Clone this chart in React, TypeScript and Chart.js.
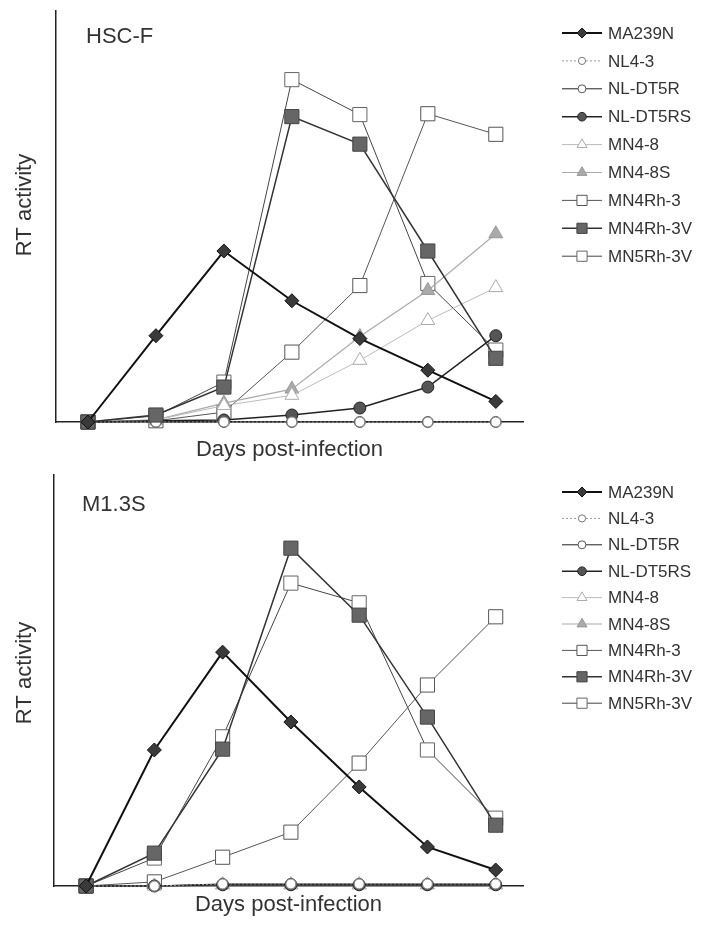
import React, { useEffect, useRef } from 'react';
import { Chart, registerables } from 'chart.js';
Chart.register(...registerables);

// ---------- data ----------
const days = [1, 2, 3, 4, 5, 6, 7];
const seriesNames = ['MA239N', 'NL4-3', 'NL-DT5R', 'NL-DT5RS', 'MN4-8', 'MN4-8S', 'MN4Rh-3', 'MN4Rh-3V', 'MN5Rh-3V'];

// Panel 1: HSC-F
const hscMA239N = [0, 21, 41.6, 29.5, 20.3, 12.6, 5];
const hscNL43 = [0, 0, 0, 0, 0, 0, 0];
const hscNLDT5R = [0, 0, 0, 0, 0, 0, 0];
const hscNLDT5RS = [0, 0.3, 0.5, 1.7, 3.4, 8.5, 21];
const hscMN48 = [0, 0.5, 4, 6.5, 15, 24.7, 32.7];
const hscMN48S = [0, 0.5, 4.6, 8, 20.8, 32, 45.8];
const hscMN4Rh3 = [0, 0.3, 2.4, 17, 33.2, 75, 70];
const hscMN4Rh3V = [0, 1.7, 8.5, 74.3, 67.6, 41.6, 15.5];
const hscMN5Rh3V = [0, 1.5, 9.7, 83.3, 74.8, 33.7, 17.5];

// Panel 2: M1.3S
const m13MA239N = [0, 33.1, 56.9, 39.9, 24.1, 9.5, 3.9];
const m13NL43 = [0, 0, 0.5, 0.5, 0.5, 0.5, 0.5];
const m13NLDT5R = [0, 0, 0.5, 0.5, 0.5, 0.5, 0.5];
const m13NLDT5RS = [0, 0, 0.3, 0.3, 0.3, 0.3, 0.3];
const m13MN48 = [0, 0, 0.3, 0.3, 0.3, 0.3, 0.3];
const m13MN48S = [0, 0, 0.3, 0.3, 0.3, 0.3, 0.3];
const m13MN4Rh3 = [0, 1, 7, 13.1, 29.9, 48.9, 65.5];
const m13MN4Rh3V = [0, 8, 33.3, 82.2, 65.9, 41.1, 14.8];
const m13MN5Rh3V = [0, 6.8, 36.3, 73.7, 68.9, 33.1, 16.5];

const hscValues = [hscMA239N, hscNL43, hscNLDT5R, hscNLDT5RS, hscMN48, hscMN48S, hscMN4Rh3, hscMN4Rh3V, hscMN5Rh3V];
const m13Values = [m13MA239N, m13NL43, m13NLDT5R, m13NLDT5RS, m13MN48, m13MN48S, m13MN4Rh3, m13MN4Rh3V, m13MN5Rh3V];

const xTitle = 'Days post-infection';
const yTitle = 'RT activity';

// ---------- styles ----------
type Sty = { line: string; lw: number; dash?: number[]; shape: string; r: number; fill: string; stroke: string; order: number };
const STYLES: Record<string, Sty> = {
  'MA239N': { line: '#111', lw: 2, shape: 'rectRot', r: 7, fill: '#3a3a3a', stroke: '#111', order: 0 },
  'NL4-3': { line: '#999', lw: 1, dash: [2, 2], shape: 'circle', r: 5, fill: '#fff', stroke: '#777', order: 1.5 },
  'NL-DT5R': { line: '#222', lw: 1, shape: 'circle', r: 5.5, fill: '#fff', stroke: '#555', order: 1.6 },
  'NL-DT5RS': { line: '#222', lw: 1.5, shape: 'circle', r: 6, fill: '#555', stroke: '#222', order: 2 },
  'MN4-8': { line: '#bbb', lw: 1, shape: 'triangle', r: 8, fill: '#fff', stroke: '#aaa', order: 2 },
  'MN4-8S': { line: '#aaa', lw: 1.2, shape: 'triangle', r: 8, fill: '#aaa', stroke: '#999', order: 2 },
  'MN4Rh-3': { line: '#555', lw: 1, shape: 'rect', r: 10, fill: '#fff', stroke: '#555', order: 2 },
  'MN4Rh-3V': { line: '#333', lw: 1.5, shape: 'rect', r: 10, fill: '#666', stroke: '#444', order: 1 },
  'MN5Rh-3V': { line: '#444', lw: 1, shape: 'rect', r: 10, fill: '#fff', stroke: '#666', order: 2 },
};

const FONT = "'Liberation Sans', Arial, Helvetica, sans-serif";

function drawMarker(ctx: CanvasRenderingContext2D, shape: string, x: number, y: number, r: number, fill: string, stroke: string) {
  ctx.beginPath();
  if (shape === 'circle') {
    ctx.arc(x, y, r, 0, Math.PI * 2);
  } else if (shape === 'rect') {
    const s = r * Math.SQRT1_2;
    ctx.rect(x - s, y - s, 2 * s, 2 * s);
  } else if (shape === 'rectRot') {
    ctx.moveTo(x - r, y); ctx.lineTo(x, y - r); ctx.lineTo(x + r, y); ctx.lineTo(x, y + r); ctx.closePath();
  } else if (shape === 'triangle') {
    ctx.moveTo(x, y - r);
    ctx.lineTo(x + r * 0.866, y + r * 0.5);
    ctx.lineTo(x - r * 0.866, y + r * 0.5);
    ctx.closePath();
  }
  ctx.fillStyle = fill; ctx.fill();
  ctx.lineWidth = 1; ctx.strokeStyle = stroke; ctx.stroke();
}

const decorPlugin = {
  id: 'decor',
  afterDraw(chart: any, _args: any, opts: any) {
    const ctx: CanvasRenderingContext2D = chart.ctx;
    ctx.save();
    // panel label
    ctx.font = `22px ${FONT}`;
    ctx.fillStyle = '#333';
    ctx.textBaseline = 'middle';
    ctx.textAlign = 'left';
    ctx.fillText(opts.label, opts.labelX, opts.labelY);
    // y-axis title
    ctx.save();
    ctx.translate(opts.yTitleX, opts.yTitleY);
    ctx.rotate(-Math.PI / 2);
    ctx.textAlign = 'center';
    ctx.fillText(yTitle, 0, 0);
    ctx.restore();
    // legend
    ctx.font = `17px ${FONT}`;
    ctx.textAlign = 'left';
    seriesNames.forEach((name, i) => {
      const st = STYLES[name];
      const y = opts.legY + i * opts.legStep;
      ctx.beginPath();
      ctx.setLineDash(st.dash || []);
      ctx.strokeStyle = st.line;
      ctx.lineWidth = st.lw;
      ctx.moveTo(562, y); ctx.lineTo(602, y); ctx.stroke();
      ctx.setLineDash([]);
      drawMarker(ctx, st.shape, 582, y, st.r * 0.72, st.fill, st.stroke);
      ctx.fillStyle = '#333';
      ctx.fillText(name, 608, y + 1);
    });
    ctx.restore();
  },
};

type PanelProps = {
  height: number; values: number[][]; label: string; labelX: number; labelY: number;
  top: number; left: number; xScaleH: number; xTitlePad: number; legY: number; legStep: number;
  yTitleX: number; yTitleY: number;
};

function Panel(p: PanelProps) {
  const ref = useRef<HTMLCanvasElement | null>(null);
  useEffect(() => {
    if (!ref.current) return;
    const datasets = seriesNames.map((name, i) => {
      const st = STYLES[name];
      return {
        label: name,
        data: days.map((d, j) => ({ x: d, y: p.values[i][j] })),
        order: st.order,
        borderColor: st.line,
        borderWidth: st.lw,
        borderDash: st.dash || [],
        pointStyle: st.shape,
        pointRadius: st.r,
        pointBackgroundColor: st.fill,
        pointBorderColor: st.stroke,
        pointBorderWidth: 1,
        tension: 0,
        fill: false,
        clip: false,
      };
    });
    const chart = new Chart(ref.current, {
      type: 'line',
      data: { datasets } as any,
      plugins: [decorPlugin],
      options: {
        responsive: false,
        animation: false,
        devicePixelRatio: 1,
        layout: { padding: { top: p.top, right: 181, left: 0, bottom: 0 } },
        plugins: {
          legend: { display: false },
          tooltip: { enabled: false },
          decor: {
            label: p.label, labelX: p.labelX, labelY: p.labelY, legY: p.legY, legStep: p.legStep,
            yTitleX: p.yTitleX, yTitleY: p.yTitleY,
          },
        } as any,
        scales: {
          x: {
            type: 'linear', min: 0.53, max: 7.4,
            grid: { display: false },
            border: { display: true, color: '#222', width: 1.5 },
            ticks: { display: false },
            title: { display: true, text: xTitle, color: '#333', font: { size: 22, family: FONT }, padding: { top: 0, bottom: p.xTitlePad } },
            afterFit: (s: any) => { s.height = p.xScaleH; },
          },
          y: {
            min: 0, max: 100,
            grid: { display: false },
            border: { display: true, color: '#222', width: 1.5 },
            ticks: { display: false },
            title: { display: false },
            afterFit: (s: any) => { s.width = p.left; },
          },
        },
      } as any,
    });
    return () => chart.destroy();
  }, []);
  return <canvas ref={ref} width={704} height={p.height} style={{ display: 'block', width: 704, height: p.height }} />;
}

export default function App() {
  return (
    <div style={{ position: 'absolute', left: 0, top: 0, width: 704, height: 927, background: '#fff' }}>
      <Panel height={463} values={hscValues} label="HSC-F" labelX={86} labelY={37}
        top={9} left={56} xScaleH={41} xTitlePad={0} legY={33} legStep={27.9} yTitleX={25} yTitleY={205} />
      <Panel height={464} values={m13Values} label="M1.3S" labelX={82} labelY={42}
        top={12} left={54} xScaleH={41} xTitlePad={9} legY={29} legStep={26.4} yTitleX={25} yTitleY={210} />
    </div>
  );
}
